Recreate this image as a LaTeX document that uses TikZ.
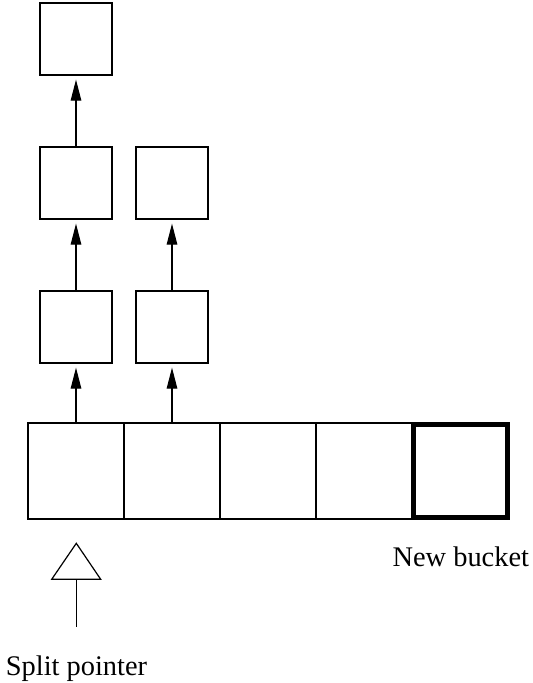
\documentclass[tikz,border=0pt]{standalone}
\usepackage{fontspec}
\setmainfont{Liberation Serif}
\usetikzlibrary{arrows.meta}
\begin{document}
\begin{tikzpicture}[x=1pt,y=-1pt,
  thin line/.style={line width=1.2pt},
  bucket/.style={draw,thin line,inner sep=0pt,minimum width=96pt,minimum height=96pt},
  newbucket/.style={draw,line width=5pt,inner sep=0pt,minimum width=94pt,minimum height=93pt},
  chainbox/.style={draw,thin line,inner sep=0pt,minimum size=72pt},
  link/.style={thin line,-{Triangle[length=21pt,width=10.5pt]},shorten >=4pt},
  label/.style={anchor=base,inner sep=0pt,font=\fontsize{28.4}{32}\selectfont}]
  \useasboundingbox (0,0) rectangle (533,683);

  % bucket array
  \node[bucket] (b0) at (76,471) {};
  \node[bucket] (b1) at (172,471) {};
  \node[bucket] (b2) at (268,471) {};
  \node[bucket] (b3) at (364,471) {};
  \node[newbucket] (b4) at (460,470.5) {};

  % overflow chains
  \node[chainbox] (c01) at (76,327) {};
  \node[chainbox] (c02) at (76,183) {};
  \node[chainbox] (c03) at (76,39) {};
  \node[chainbox] (c11) at (172,327) {};
  \node[chainbox] (c12) at (172,183) {};

  \draw[link] (b0.north) -- (c01.south);
  \draw[link] (c01.north) -- (c02.south);
  \draw[link] (c02.north) -- (c03.south);
  \draw[link] (b1.north) -- (c11.south);
  \draw[link] (c11.north) -- (c12.south);

  % split pointer
  \coordinate (tip) at (76.3,543.3);
  \coordinate (bl) at (51.7,579.3);
  \coordinate (br) at (100.7,579.3);
  \coordinate (base) at (76.3,579.3);
  \coordinate (tail) at (76.3,627);
  \draw[thin line,line join=miter] (tip) -- (br) -- (bl) -- cycle;
  \draw[thin line] (base) -- (tail);

  \node[label] (splitlbl) at (76.5,675) {Split pointer};
  \node[label] (newlbl) at (460.8,566.7) {New bucket};
\end{tikzpicture}
\end{document}
